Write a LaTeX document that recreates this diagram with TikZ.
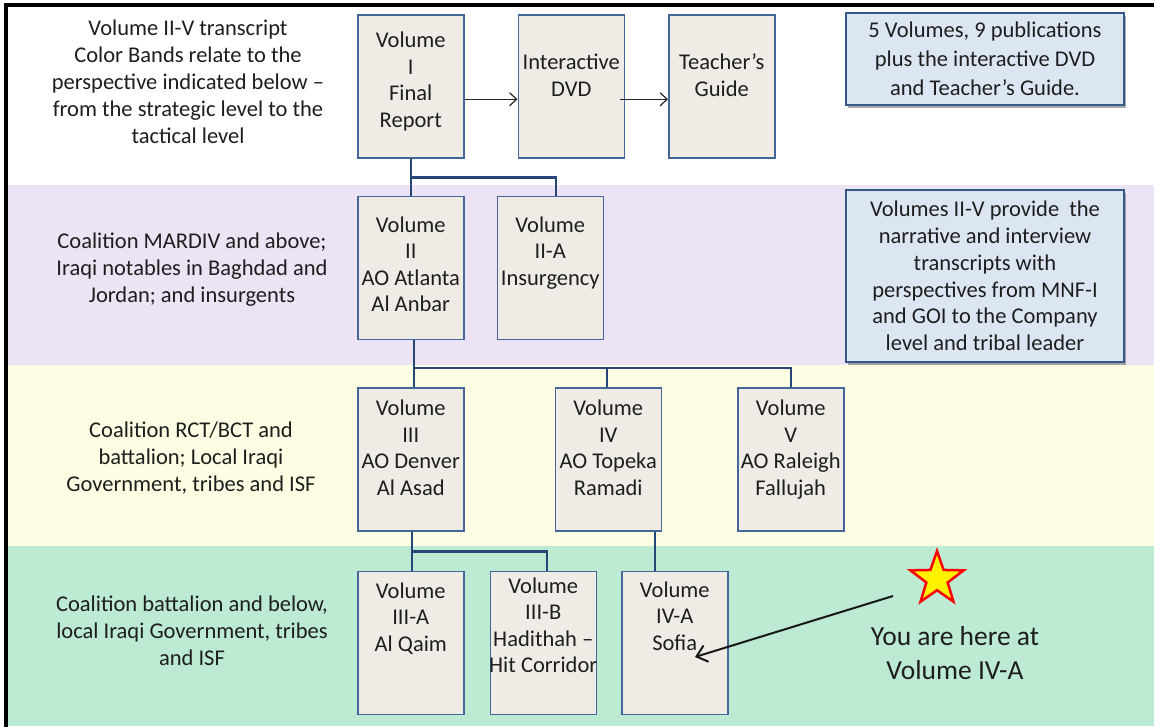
\documentclass[tikz,border=0pt]{standalone}
\usepackage{fontspec}
\setmainfont{Carlito}
\usepackage{tikz}
\usetikzlibrary{positioning, arrows.meta, shapes.geometric, shadows}

\definecolor{boxfill}{RGB}{238,236,228}
\definecolor{boxline}{RGB}{68,102,152}
\definecolor{linkblue}{RGB}{38,70,120}
\definecolor{notefill}{RGB}{220,230,242}
\definecolor{noteline}{RGB}{55,88,138}
\definecolor{bandpurple}{RGB}{236,227,244}
\definecolor{bandyellow}{RGB}{253,253,228}
\definecolor{bandgreen}{RGB}{188,234,210}
\definecolor{ink}{RGB}{30,30,30}

\tikzset{
  vol/.style={rectangle, draw=boxline, fill=boxfill, line width=1.5pt,
    text width=106pt, inner xsep=0pt, inner ysep=0pt, align=flush center, text=ink,
    text height=#1pt, text depth=\the\numexpr143-#1\relax pt,
    font=\fontsize{22.5}{26.5}\selectfont},
  vol/.default=28,
  level/.style={align=center, text=ink, font=\fontsize{22.5}{27}\selectfont},
  note/.style={rectangle, draw=noteline, fill=notefill, line width=1.5pt,
    minimum width=278pt, align=center, text=ink,
    drop shadow={shadow xshift=2pt, shadow yshift=-3pt, fill=black!55, opacity=.6}},
  link/.style={draw=linkblue, line width=2.2pt},
  arr/.style={-{Straight Barb[length=7pt,width=13pt]}, line width=1.2pt, draw=black!85},
  pointer/.style={-{Straight Barb[length=10pt,width=17pt]}, line width=2pt, draw=black!90}
}

\begin{document}
\begin{tikzpicture}[x=1pt, y=-1pt]
		\useasboundingbox (0,0) rectangle (1154,726);
		\clip (0,0) rectangle (1154,726);
		% bands %
		\fill[white] (0,0) rectangle (1154,726);
		\fill[bandpurple] (6,185) rectangle (1154,365);
		\fill[bandyellow] (6,365) rectangle (1154,546);
		\fill[bandgreen] (6,546) rectangle (1154,726);
		\draw[line width=4pt, line join=miter] (6,730) -- (6,5) -- (1160,5);

		% level texts %
		\node[level] (lev1) at (188,82) {Volume II-V transcript\\Color Bands relate to the\\perspective indicated below –\\from the strategic level to the\\tactical level};
		\node[level] (lev2) at (192,270) {Coalition MARDIV and above;\\Iraqi notables in Baghdad and\\Jordan; and insurgents};
		\node[level] (lev3) at (191,458) {Coalition RCT/BCT and\\battalion; Local Iraqi\\Government, tribes and ISF};
		\node[level] (lev4) at (192,631) {Coalition battalion and below,\\local Iraqi Government, tribes\\and ISF};

		% volumes %
		\node[vol=33, anchor=north west] (v1) at (357,14) {Volume\\I\\Final\\Report};
		\node[vol=55, right=53pt of v1] (dvd) {Interactive\\DVD};
		\node[vol=55, right=43pt of dvd] (tg) {Teacher’s\\Guide};
		\node[vol=36, below=37pt of v1] (v2) {Volume\\II\\\mbox{AO Atlanta}\\\mbox{Al Anbar}};
		\node[vol=36, right=32pt of v2] (v2a) {Volume\\II-A\\Insurgency};
		\node[vol, below=47pt of v2] (v3) {Volume\\III\\\mbox{AO Denver}\\\mbox{Al Asad}};
		\node[vol, right=90pt of v3] (v4) {Volume\\IV\\\mbox{AO Topeka}\\Ramadi};
		\node[vol, right=75pt of v4] (v5) {Volume\\V\\\mbox{AO Raleigh}\\Fallujah};
		\node[vol=27, below=39pt of v3] (v3a) {Volume\\III-A\\\mbox{Al Qaim}};
		\node[vol=22, right=25pt of v3a] (v3b) {Volume\\III-B\\\mbox{Hadithah –}\\\makebox[106pt]{Hit Corridor}};
		\node[vol=26, right=24pt of v3b] (v4a) {Volume\\IV-A\\Sofia};

		% notes %
		\node[note, minimum height=92pt, font=\fontsize{22.5}{29}\selectfont] (note1) at (985,59) {5 Volumes, 9 publications\\plus the interactive DVD\\and Teacher’s Guide.};
		\node[note, minimum height=172pt, font=\fontsize{22.5}{26.7}\selectfont] (note2) at (985,276) {Volumes II-V provide\ \ the\\narrative and interview\\transcripts with\\perspectives from MNF-I\\and GOI to the Company\\level and tribal leader};

		% you are here %
		\node[star, star points=5, star point ratio=2.5, minimum size=56pt, inner sep=0pt,
		  fill=yellow, draw=red, line width=2.5pt] (star) at (937,579) {};
		\node[align=center, text=ink, font=\fontsize{27.5}{33.5}\selectfont] (here) at (955,653) {You are here at\\Volume IV-A};
		\coordinate (from) at (893,596);
		\coordinate (tip) at (695,657);

		% edges %
		\draw[arr] ([yshift=-13pt]v1.east) -- ([yshift=-13pt]dvd.west);
		\draw[arr] ([xshift=-5pt, yshift=-13pt]dvd.east) -- ([yshift=-13pt]tg.west);
		\draw[link] (v1.south) -- (v2.north);
		\draw[link] (v1.south) ++(0,19) -| ([xshift=6pt]v2a.north);
		\draw[link] ([xshift=3pt]v2.south) -- ([xshift=3pt]v3.north);
		\draw[link] ([xshift=3pt]v2.south) ++(0,28) -| ([xshift=-1pt]v4.north);
		\draw[link] ([xshift=3pt]v2.south) ++(0,28) -| (v5.north);
		\draw[link] ([xshift=1pt]v3.south) -- ([xshift=1pt]v3a.north);
		\draw[link] ([xshift=1pt]v3.south) ++(0,20) -| ([xshift=4pt]v3b.north);
		\draw[link] ([xshift=46.5pt]v4.south) -- ([xshift=46.5pt]v4.south |- v4a.north);
		\draw[pointer] (from) -- (tip);
\end{tikzpicture}
\end{document}
